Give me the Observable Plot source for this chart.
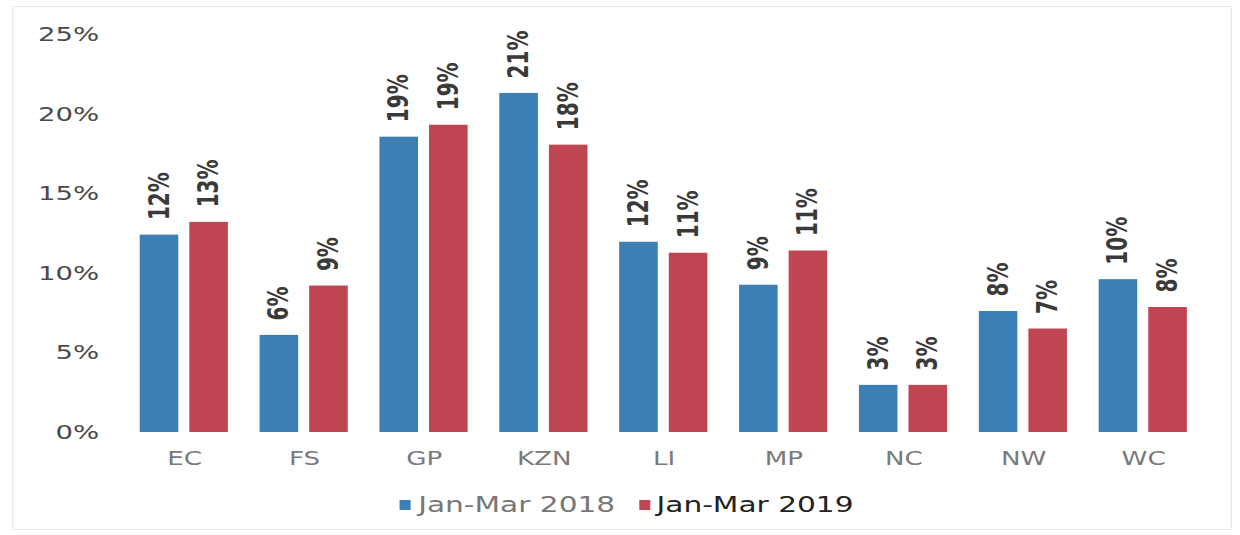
<!DOCTYPE html>
<html>
<head>
<meta charset="utf-8">
<script src="https://cdn.jsdelivr.net/npm/d3@7"></script>
<script src="https://cdn.jsdelivr.net/npm/@observablehq/plot@0.6"></script>
<style>
  html, body { margin: 0; padding: 0; background: #fff; }
  #frame { position: absolute; left: 12px; top: 6px; width: 1220px; height: 524px; border: 1px solid #e8e8e8; box-sizing: border-box; }
  #wrap { position: absolute; left: 0; top: 0; width: 900px; transform: scaleX(1.3778); transform-origin: 0 0; font-family: "DejaVu Sans", Verdana, sans-serif; }
  #legend { display: flex; justify-content: center; align-items: center; gap: 17px; margin-top: 17px; padding-left: 10px; font-size: 21.5px; line-height: 26px; }
  .item { display: flex; align-items: center; gap: 5px; }
  .sw { width: 8px; height: 10px; display: inline-block; }
</style>
</head>
<body>
<div id="frame"></div>
<div id="wrap">
  <div id="chart"></div>
  <div id="legend"></div>
</div>
<script>
const categories = ["EC", "FS", "GP", "KZN", "LI", "MP", "NC", "NW", "WC"];
const seriesNames = ["Jan-Mar 2018", "Jan-Mar 2019"];
const values2018 = [12.4, 6.1, 18.55, 21.3, 11.95, 9.25, 2.96, 7.6, 9.6];
const values2019 = [13.2, 9.2, 19.3, 18.05, 11.26, 11.4, 2.96, 6.5, 7.85];
const labels2018 = ["12%", "6%", "19%", "21%", "12%", "9%", "3%", "8%", "10%"];
const labels2019 = ["13%", "9%", "19%", "18%", "11%", "11%", "3%", "7%", "8%"];
const yTicks = [0, 5, 10, 15, 20, 25];
const colors = ["#3b7fb5", "#bf4553"];
const legendTextColors = ["#777777", "#222222"];

const data = [];
categories.forEach((c, i) => {
  data.push({cat: c, series: seriesNames[0], value: values2018[i], label: labels2018[i]});
  data.push({cat: c, series: seriesNames[1], value: values2019[i], label: labels2019[i]});
});

const chart = Plot.plot({
  width: 900,
  height: 475,
  marginLeft: 89.6,
  marginRight: 26.5,
  marginTop: 34,
  marginBottom: 43,
  style: {fontFamily: "DejaVu Sans, Verdana, sans-serif", background: "transparent"},
  fx: {domain: categories, padding: 0, label: null},
  x: {domain: seriesNames, paddingInner: 0.216, paddingOuter: 0.285, axis: null},
  y: {domain: [0, 25], label: null},
  color: {domain: seriesNames, range: colors},
  marks: [
    Plot.axisY({ticks: yTicks, tickFormat: d => d + "%", tickSize: 0, tickPadding: 18.5, fontSize: 20, color: "#4a4a4a", label: null}),
    Plot.axisFx({anchor: "bottom", tickSize: 0, tickPadding: 19, fontSize: 19, color: "#7a7a7a", label: null}),
    Plot.barY(data, {fx: "cat", x: "series", y: "value", fill: "series"}),
    Plot.text(data, {fx: "cat", x: "series", y: "value", text: "label", rotate: -90, textAnchor: "start", lineAnchor: "middle", dy: -15, fontSize: 20, fontWeight: "bold", fill: "#3a3a3a"})
  ]
});
document.getElementById("chart").appendChild(chart);

const legend = document.getElementById("legend");
seriesNames.forEach((s, i) => {
  const item = document.createElement("div");
  item.className = "item";
  const sw = document.createElement("span");
  sw.className = "sw";
  sw.style.background = colors[i];
  const t = document.createElement("span");
  t.textContent = s;
  t.style.color = legendTextColors[i];
  item.appendChild(sw);
  item.appendChild(t);
  legend.appendChild(item);
});
</script>
</body>
</html>
